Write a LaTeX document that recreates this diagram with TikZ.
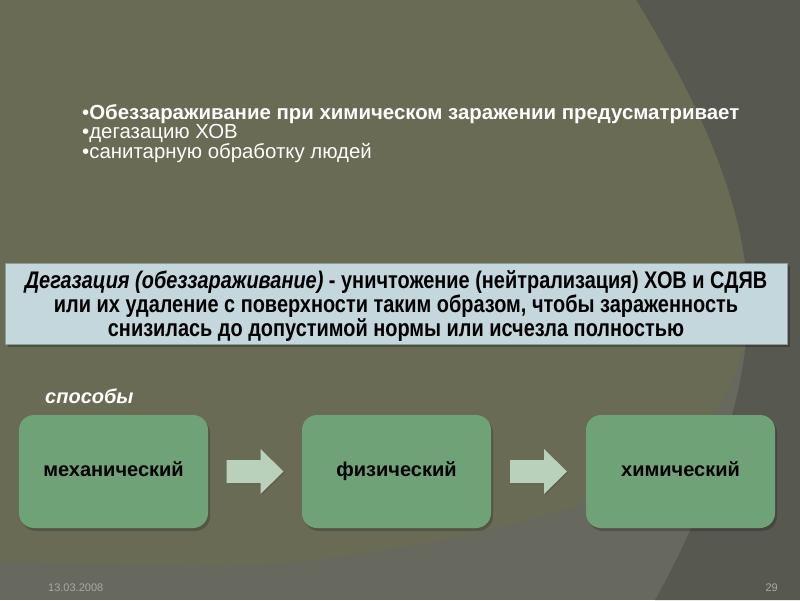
\documentclass[tikz,border=0pt]{standalone}
\usepackage{fontspec}
\setmainfont{Liberation Sans}
\newfontfamily\narrowfont[FakeStretch=0.83]{Liberation Sans}
\usetikzlibrary{calc}
\definecolor{bgolive}{HTML}{696B55}
\definecolor{bggray}{HTML}{67685E}
\definecolor{bgdark}{HTML}{57584F}
\definecolor{defill}{HTML}{C4D7DD}
\definecolor{dedraw}{HTML}{8E9C9C}
\definecolor{gfill}{HTML}{6FA377}
\definecolor{afill}{HTML}{B9D1BB}
\definecolor{foot}{HTML}{A9AAA0}
\tikzset{
  bline/.style={anchor=base west, inner sep=0pt, text=white, font=\fontsize{20.4}{24}\selectfont},
  defbox/.style={draw=dedraw, line width=0.8pt, fill=defill, minimum width=782pt, minimum height=81pt,
    inner sep=0pt},
  deftext/.style={inner sep=0pt, align=center, font=\narrowfont\bfseries\fontsize{24}{24}\selectfont},
  waybox/.style={draw=none, fill=gfill, rounded corners=15pt, minimum width=189pt, minimum height=113pt,
    inner sep=0pt, text height=14pt, text depth=4pt, font=\bfseries\fontsize{20}{22}\selectfont},
  blockarrow/.style={fill=afill, draw=none},
  footer/.style={inner sep=0pt, text=foot, font=\fontsize{11}{13}\selectfont},
}
\begin{document}
\begin{tikzpicture}[x=1pt,y=-1pt]
\useasboundingbox (0,0) rectangle (800,600);
% background
\fill[bggray] (0,0) rectangle (800,600);
\fill[bgdark] (636,0) .. controls (697,100) and (745,200) .. (748,300)
   .. controls (750,400) and (700,520) .. (655,600) -- (800,600) -- (800,0) -- cycle;
\fill[bgolive] (0,0) -- (636,0) .. controls (697,100) and (745,200) .. (748,300)
   .. controls (750,380) and (700,470) .. (582,505)
   .. controls (450,545) and (300,568) .. (200,566)
   .. controls (120,565) and (60,563) .. (0,562) -- cycle;
% bullet lines
\node[bline] (l1) at (82,119) {\textbullet\bfseries Обеззараживание при химическом заражении предусматривает};
\node[bline] (l2) at (82,138.5) {\textbullet дегазацию ХОВ};
\node[bline] (l3) at (82,158) {\textbullet санитарную обработку людей};
% definition box
\fill[black,opacity=0.25] (8,266) rectangle (790,347);
\node[defbox] (def) at (396,303.5) {};
\node[deftext] (deftxt) at ([yshift=-3pt]def.center) {\textit{Дегазация (обеззараживание)} - уничтожение (нейтрализация) ХОВ и СДЯВ\\
или их удаление с поверхности таким образом, чтобы зараженность\\
снизилась до допустимой нормы или исчезла полностью};
% methods
\node[anchor=base west, inner sep=0pt, text=white, font=\bfseries\itshape\fontsize{20}{24}\selectfont] (sp) at (45,403) {способы};
\foreach \x in {113.5,396.5,680.5}{\fill[black,opacity=0.2,rounded corners=15pt] (\x-94.5+2,415+3) rectangle (\x+94.5+2,528+3);}
\node[waybox] (m) at (113.5,471.5) {механический};
\node[waybox] (f) at (396.5,471.5) {физический};
\node[waybox] (c) at (680.5,471.5) {химический};
\coordinate (a1) at ($(m.east)!0.5!(f.west)$);
\coordinate (a2) at ($(f.east)!0.5!(c.west)$);
\foreach \a in {a1,a2}{
  \fill[black,opacity=0.15] ($(\a)+(-27.5,-10.5)$) -- ++(34,0) -- ++(0,-11) -- ++(23,22.5) -- ++(-23,22.5)
     -- ++(0,-11) -- ++(-34,0) -- cycle;
  \fill[blockarrow] ($(\a)+(-28.5,-11.5)$) -- ++(34,0) -- ++(0,-11) -- ++(23,22.5) -- ++(-23,22.5)
     -- ++(0,-11) -- ++(-34,0) -- cycle;
}
% footer
\node[footer, anchor=base west] (date) at (48,591) {13.03.2008};
\node[footer, anchor=base east] (num) at (778,591) {29};
\end{tikzpicture}
\end{document}
